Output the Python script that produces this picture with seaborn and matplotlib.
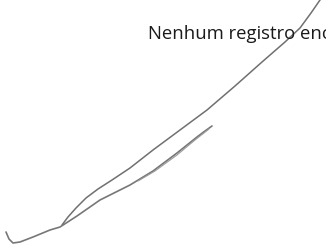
import matplotlib
matplotlib.use("Agg")
import matplotlib.pyplot as plt
import seaborn as sns
import pandas as pd

sns.set_theme(style="white")
plt.rcParams['font.family'] = ['Open Sans', 'DejaVu Sans']

message = "Nenhum registro encontrado"

# signature strokes (page coordinates, pixels)
stroke1_x = [323, 320, 311, 300, 285, 262, 235, 207, 180, 153, 130, 112, 98, 86, 76, 68, 62]
stroke1_y = [-4, 0, 13, 28, 42, 62, 86, 110, 130, 150, 168, 180, 189, 198, 208, 217, 225]
stroke2_x = [212, 205, 197, 177, 153, 130, 100, 77, 60, 50, 33, 20, 13, 9, 6]
stroke2_y = [126, 131, 137, 153, 171, 185, 200, 216, 227, 230, 237, 242, 243, 239, 232]
stroke3_x = [209, 195, 177, 155, 138]
stroke3_y = [129, 140, 155, 171, 181]

fig = plt.figure(figsize=(3.26, 2.49), dpi=100)
ax = fig.add_axes([0, 0, 1, 1])
ax.set_xlim(0, 326)
ax.set_ylim(249, 0)
ax.axis("off")

for xs, ys, lw, col in [(stroke1_x, stroke1_y, 1.1, "#707070"),
                         (stroke2_x, stroke2_y, 1.2, "#777777"),
                         (stroke3_x, stroke3_y, 0.8, "#9a9a9a")]:
    df = pd.DataFrame({"x": xs, "y": ys})
    sns.lineplot(data=df, x="x", y="y", sort=False, ax=ax, color=col,
                 linewidth=lw, estimator=None)
ax.set_xlabel("")
ax.set_ylabel("")

ax.text(148, 38.5, message, fontsize=13.3, color="#1a1a1a", ha="left", va="baseline")

fig.savefig("out.png", dpi=100)
